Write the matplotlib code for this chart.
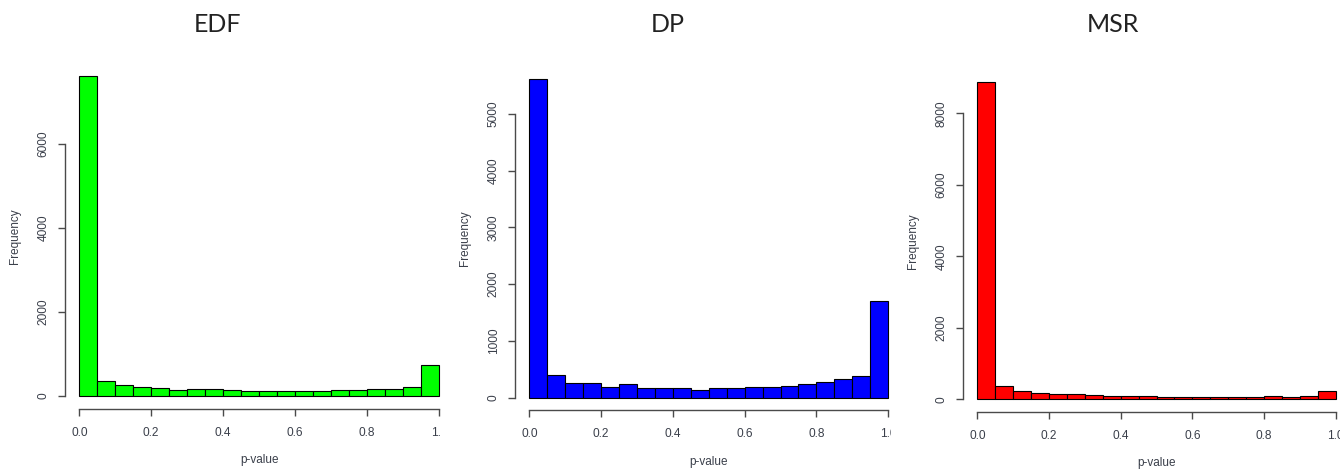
import numpy as np
import matplotlib
matplotlib.use("Agg")
import matplotlib.pyplot as plt
from matplotlib.transforms import Bbox

# p-value histograms, 20 bins of width 0.05
bin_edges = np.linspace(0.0, 1.0, 21)

edf_counts = [7620, 358, 254, 215, 175, 135, 151, 151, 135, 111,
              111, 111, 111, 111, 135, 135, 151, 151, 215, 723]
dp_counts = [5610, 405, 264, 253, 194, 235, 165, 165, 165, 141,
             165, 165, 182, 182, 200, 235, 270, 323, 388, 1704]
msr_counts = [8870, 373, 233, 186, 140, 140, 121, 93, 93, 93,
              75, 75, 75, 75, 75, 75, 103, 75, 103, 242]

titles = ["EDF", "DP", "MSR"]
colors = ["#00ff00", "#0000ff", "#ff0000"]
counts = [edf_counts, dp_counts, msr_counts]
y_ticks = [[0, 2000, 4000, 6000],
           [0, 1000, 2000, 3000, 4000, 5000],
           [0, 2000, 4000, 6000, 8000]]
x_ticks = [0.0, 0.2, 0.4, 0.6, 0.8, 1.0]
x_ticklabels = ["0.0", "0.2", "0.4", "0.6", "0.8", "1.0"]

# layout in pixels (figure is 1340 x 470)
W, H = 1340, 470
panel_left = [64.9, 514.9, 963.0]
panel_right = [453.4, 902.6, 1350.1]
panel_top = [63.3, 66.7, 69.5]
panel_bottom = [408.5, 410.4, 412.0]
title_x = [217.5, 667.5, 1112.5]
title_y = 24
clip_right = [441, 891, W]

axis_col = "#4a4a4a"
text_col = "#3a3f4a"

fig = plt.figure(figsize=(W / 100, H / 100), dpi=100)

for i in range(3):
    l, r = panel_left[i], panel_right[i]
    t, b = panel_top[i], panel_bottom[i]
    ax = fig.add_axes([l / W, 1 - b / H, (r - l) / W, (b - t) / H])

    c = counts[i]
    ax.bar(bin_edges[:-1], c, width=0.05, align="edge",
           color=colors[i], edgecolor="black", linewidth=0.8)

    m = max(c)
    ax.set_xlim(-0.04, 1.04)
    ax.set_ylim(-0.04 * m, 1.04 * m)

    for s in ["top", "right"]:
        ax.spines[s].set_visible(False)
    ax.spines["left"].set_bounds(0, y_ticks[i][-1])
    ax.spines["bottom"].set_bounds(0, 1)
    for s in ["left", "bottom"]:
        ax.spines[s].set_color(axis_col)
        ax.spines[s].set_linewidth(1.0)

    ax.set_xticks(x_ticks)
    ax.set_xticklabels(x_ticklabels)
    ax.set_yticks(y_ticks[i])
    ax.set_yticklabels([str(v) for v in y_ticks[i]])
    ax.tick_params(axis="x", length=5, width=1.0, color=axis_col,
                   labelcolor=text_col, labelsize=8.6, pad=8)
    ax.tick_params(axis="y", length=5, width=1.0, color=axis_col,
                   labelcolor=text_col, labelsize=8.6, pad=6, labelrotation=90)
    for lab in ax.get_yticklabels():
        lab.set_va("center")
        lab.set_family("Liberation Sans")
    for lab in ax.get_xticklabels():
        lab.set_family("Liberation Sans")

    # the source panels were cropped just past the 1.0 tick
    last = ax.xaxis.get_major_ticks()[-1].label1
    last.set_clip_box(Bbox([[0, 0], [clip_right[i], H]]))
    last.set_clip_on(True)

    ax.set_xlabel("p-value", fontsize=8.5, color=text_col,
                  family="Liberation Sans", va="center")
    ax.set_ylabel("Frequency", fontsize=8.5, color=text_col,
                  family="Liberation Sans", va="center")
    ax.xaxis.set_label_coords(0.5, -0.149)
    ax.yaxis.set_label_coords(-0.128, 0.5)

    fig.text(title_x[i] / W, 1 - title_y / H, titles[i], fontsize=18,
             family="Lato", color="#222222", ha="center", va="center")

fig.savefig("out.png", dpi=100)
